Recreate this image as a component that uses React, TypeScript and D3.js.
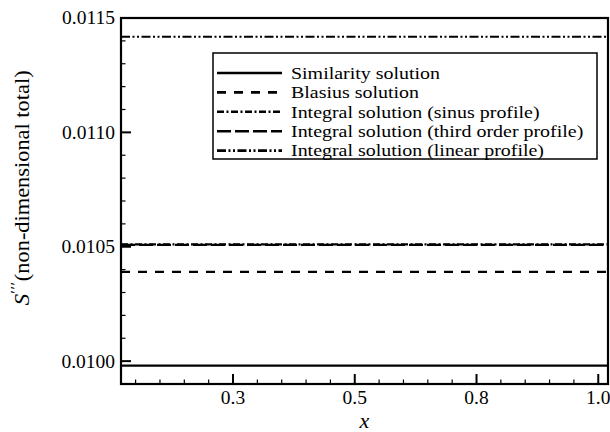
import React from "react";
import * as d3 from "d3";

// Sampled positions along x and the total non-dimensional value of each solution
const xs = [0.02, 0.27, 0.52, 0.77, 1.02];
const similarity = [0.00998, 0.00998, 0.00998, 0.00998, 0.00998];
const blasius = [0.01039, 0.01039, 0.01039, 0.01039, 0.01039];
const sinusProfile = [0.01051, 0.01051, 0.01051, 0.01051, 0.01051];
const thirdOrderProfile = [0.010508, 0.010508, 0.010508, 0.010508, 0.010508];
const linearProfile = [0.011418, 0.011418, 0.011418, 0.011418, 0.011418];

const seriesNames = [
  "Similarity solution",
  "Blasius solution",
  "Integral solution (sinus profile)",
  "Integral solution (third order profile)",
  "Integral solution (linear profile)",
];
const seriesDash = ["none", "9,8", "7,2.5,2,2.5", "14,4", "9,2.5,2,2.5,2,2.5"];

const xMajorTicks = [0.25, 0.5, 0.75, 1.0];
const xMinorTicks = [0.05, 0.1, 0.15, 0.2, 0.3, 0.35, 0.4, 0.45, 0.55, 0.6, 0.65, 0.7, 0.8, 0.85, 0.9, 0.95];
const yMajorTicks = [0.01, 0.0105, 0.011, 0.0115];
const yMinorTicks = [0.0101, 0.0102, 0.0103, 0.0104, 0.0106, 0.0107, 0.0108, 0.0109, 0.0111, 0.0112, 0.0113, 0.0114];

const W = 610;
const H = 432;
const left = 121;
const right = 608;
const top = 18;
const bottom = 384;

const font = "'Liberation Serif', serif";

export default function App() {
  const x = d3.scaleLinear().domain([0.02, 1.02]).range([left, right]);
  const y = d3.scaleLinear().domain([0.0099, 0.0115]).range([bottom, top]);
  const line = d3
    .line<[number, number]>()
    .x((d) => x(d[0]))
    .y((d) => y(d[1]));

  const series = [similarity, blasius, sinusProfile, thirdOrderProfile, linearProfile];

  const legX = 213;
  const legY = 53;
  const legW = 384;
  const legH = 106;
  const rowY0 = 73;
  const rowStep = 19.4;

  return (
    <svg
      width={W}
      height={H}
      style={{ position: "absolute", left: 0, top: 0, background: "#fff" }}
    >
      <rect x={0} y={0} width={W} height={H} fill="#fff" />

      {/* curves */}
      {series.map((vals, i) => (
        <path
          key={i}
          d={line(xs.map((v, j) => [v, vals[j]] as [number, number])) || ""}
          fill="none"
          stroke="#000"
          strokeWidth={2.2}
          strokeDasharray={seriesDash[i]}
        />
      ))}

      {/* x ticks */}
      {xMinorTicks.map((t) => (
        <line key={"xm" + t} x1={x(t)} x2={x(t)} y1={bottom} y2={bottom - 4.5} stroke="#000" strokeWidth={1.2} />
      ))}
      {xMajorTicks.map((t) => (
        <g key={"xM" + t}>
          <line x1={x(t)} x2={x(t)} y1={bottom} y2={bottom - 10} stroke="#000" strokeWidth={2} />
          <text x={x(t)} y={404} textAnchor="middle" fontFamily={font} fontSize={19.5} fill="#000">
            {t.toFixed(1)}
          </text>
        </g>
      ))}

      {/* y ticks */}
      {yMinorTicks.map((t) => (
        <line key={"ym" + t} x1={left} x2={left + 4.5} y1={y(t)} y2={y(t)} stroke="#000" strokeWidth={1.2} />
      ))}
      {yMajorTicks.map((t) => (
        <g key={"yM" + t}>
          <line x1={left} x2={left + 10} y1={y(t)} y2={y(t)} stroke="#000" strokeWidth={2} />
          <text x={115} y={y(t)} dy="0.33em" textAnchor="end" fontFamily={font} fontSize={19.5} fill="#000">
            {t.toFixed(4)}
          </text>
        </g>
      ))}

      {/* frame */}
      <rect x={left} y={top} width={right - left} height={bottom - top} fill="none" stroke="#000" strokeWidth={2.2} />

      {/* legend */}
      <rect x={legX} y={legY} width={legW} height={legH} fill="#fff" stroke="#000" strokeWidth={1.5} />
      {seriesNames.map((name, i) => {
        const ry = rowY0 + i * rowStep;
        return (
          <g key={name}>
            <line x1={217} x2={282} y1={ry} y2={ry} stroke="#000" strokeWidth={2.6} strokeDasharray={seriesDash[i]} />
            <text
              transform={`translate(291, ${ry}) scale(1.14, 1)`}
              dy="0.33em"
              fontFamily={font}
              fontSize={17.5}
              fill="#000"
            >
              {name}
            </text>
          </g>
        );
      })}

      {/* axis titles */}
      <text x={(left + right) / 2} y={428} textAnchor="middle" fontFamily={font} fontStyle="italic" fontSize={22} fill="#000">
        x
      </text>
      <text
        transform={`translate(29, 188) rotate(-90) scale(1.12, 1)`}
        textAnchor="middle"
        fontFamily={font}
        fontSize={20}
        fill="#000"
      >
        <tspan fontStyle="italic" fontSize={21}>S</tspan>
        <tspan dy={-8} fontSize={15} letterSpacing={0.5}>′′′</tspan>
        <tspan dy={8}>(non-dimensional total)</tspan>
      </text>
    </svg>
  );
}
